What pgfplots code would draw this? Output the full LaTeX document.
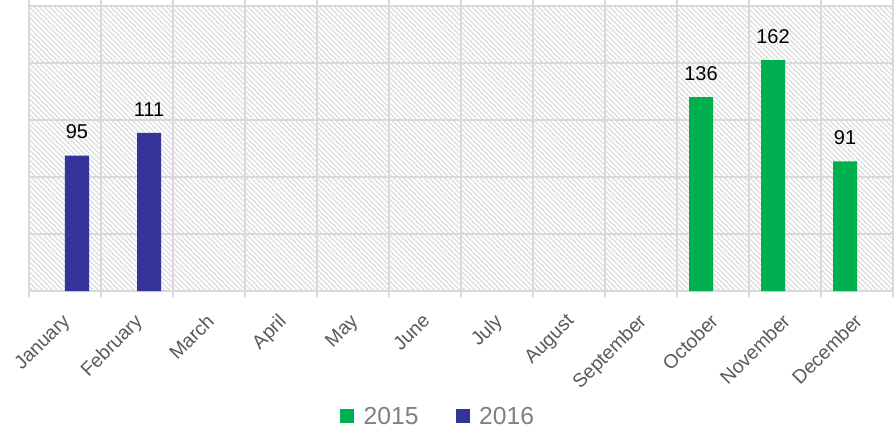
\documentclass[border=0pt]{standalone}
\usepackage{pgfplots}
\pgfplotsset{compat=1.18}
\usepackage{fontspec}
\setmainfont{Liberation Sans}
\usetikzlibrary{patterns.meta}
\definecolor{cgreen}{HTML}{00B050}
\definecolor{cblue}{HTML}{333399}
\definecolor{cgrid}{HTML}{D9D9D9}
\definecolor{ctick}{HTML}{595959}
\definecolor{clegend}{HTML}{808080}
\begin{document}
\begin{tikzpicture}
\begin{axis}[
  scale only axis,
  width=648pt, height=213.75pt,
  /pgf/number format/assume math mode=true,
  ybar=0pt, bar width=18pt,
  xmin=-0.5, xmax=11.5,
  ymin=0, ymax=200,
  ytick={0,40,...,200}, yticklabels={},
  ymajorgrids, major y tick style={draw=none},
  xtick={-0.5,0.5,...,11.5}, xticklabels={},
  xmajorgrids,
  major x tick style={draw=cgrid, line width=1pt},
  tick align=outside, major tick length=4.5pt,
  grid style={draw=cgrid, line width=1pt},
  axis line style={draw=cgrid, line width=1pt},
  axis background/.style={pattern={Lines[angle=-45, distance=2.7pt, line width=1pt]}, pattern color=black!13},
  extra x ticks={0,...,11},
  extra x tick labels={January,February,March,April,May,June,July,August,September,October,November,December},
  extra x tick style={major tick length=0pt, grid=none,
    tick label style={rotate=45, anchor=north east, font=\fontsize{14.5}{14.5}\selectfont, text=ctick, inner sep=1pt, xshift=-12.3pt, yshift=-8.4pt}},
  nodes near coords,
  every node near coord/.append style={font=\fontsize{15}{15}\selectfont, text=black, anchor=base, yshift=12.5pt},
  legend style={at={(0.474,-0.44)}, anchor=center, draw=none, legend columns=2,
    font=\fontsize{18.5}{18.5}\selectfont, text=clegend,
    /tikz/every odd column/.append style={column sep=5pt},
    /tikz/every even column/.append style={column sep=26pt}},
  legend image code/.code={\fill[#1] (0pt,-5.25pt) rectangle (10.5pt,5.25pt);},
]
\addplot[fill=cgreen, draw=none] coordinates {(9,136) (10,162) (11,91)};
\addplot[fill=cblue, draw=none] coordinates {(0,95) (1,111)};
\legend{2015,2016}
\end{axis}
\pgfresetboundingbox
\path ([xshift=-21.75pt,yshift=-105pt]current axis.south west) rectangle ([xshift=0.75pt,yshift=4.5pt]current axis.north east);
\end{tikzpicture}
\end{document}
